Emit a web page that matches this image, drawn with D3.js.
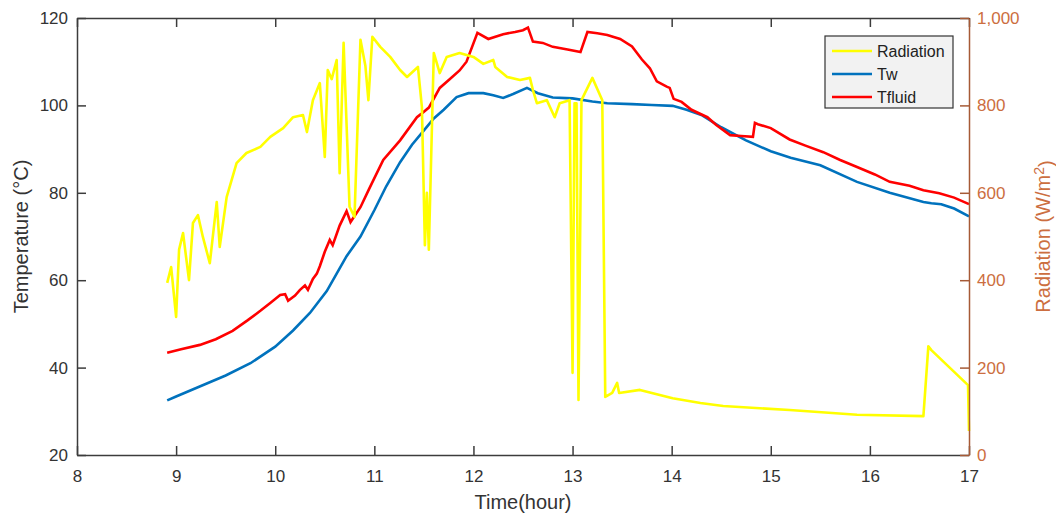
<!DOCTYPE html>
<html lang="en">
	<head>
		<meta charset="utf-8">
		<title>Temperature and radiation</title>
		<script src="https://d3js.org/d3.v7.min.js"></script>
		<style type="text/css">
		body { margin: 0; background: #fff; }
		.axis text {
			font-family: "Liberation Sans", Arial, sans-serif;
			font-size: 17px;
			fill: #333;
		}
		.axis path, .axis line {
			stroke: #3c3c3c;
			stroke-width: 1.5;
		}
		.axis.right path, .axis.right line { stroke: #a65a36; }
		.axis.right text { fill: #cc6e40; }
		.label {
			font-family: "Liberation Sans", Arial, sans-serif;
			font-size: 20px;
			fill: #333;
			text-anchor: middle;
		}
		.legend text {
			font-family: "Liberation Sans", Arial, sans-serif;
			font-size: 16px;
			fill: #222;
		}
		</style>
	</head>
	<body>
		<div id="chart"></div>
		<script type="text/javascript">

		// Tw (blue) - time in hours, temperature in degC
		var twTime = [8.91, 9.0, 9.25, 9.5, 9.75, 10.0, 10.18, 10.35, 10.52, 10.62, 10.72, 10.86, 11.0, 11.12, 11.26, 11.38, 11.49, 11.6, 11.7, 11.83, 11.95, 12.1, 12.2, 12.3, 12.4, 12.54, 12.65, 12.8, 13.0, 13.2, 13.35, 13.6, 13.8, 14.01, 14.15, 14.3, 14.5, 14.75, 15.0, 15.2, 15.5, 15.87, 16.2, 16.54, 16.62, 16.72, 16.85, 17.0];
		var twVals = [32.5, 33.4, 35.8, 38.2, 41.0, 44.8, 48.5, 52.5, 57.5, 61.5, 65.5, 70.0, 76.0, 81.5, 87.0, 91.0, 94.0, 97.0, 99.0, 101.9, 102.8, 102.8, 102.3, 101.7, 102.6, 104.0, 102.8, 101.8, 101.6, 100.9, 100.5, 100.3, 100.1, 99.9, 99.0, 97.8, 95.0, 92.0, 89.5, 88.0, 86.3, 82.5, 80.0, 77.9, 77.6, 77.4, 76.4, 74.6];

		// Tfluid (red)
		var tfTime = [8.91, 9.05, 9.24, 9.4, 9.57, 9.72, 9.85, 9.95, 10.05, 10.1, 10.13, 10.2, 10.25, 10.3, 10.33, 10.38, 10.42, 10.45, 10.5, 10.55, 10.58, 10.65, 10.72, 10.76, 10.86, 10.95, 11.09, 11.26, 11.43, 11.47, 11.55, 11.66, 11.76, 11.86, 11.93, 12.04, 12.15, 12.3, 12.42, 12.5, 12.55, 12.6, 12.7, 12.8, 12.95, 13.08, 13.15, 13.25, 13.35, 13.48, 13.6, 13.7, 13.78, 13.85, 13.95, 13.98, 14.02, 14.1, 14.2, 14.36, 14.45, 14.59, 14.7, 14.82, 14.84, 14.87, 15.0, 15.19, 15.35, 15.53, 15.7, 15.87, 16.05, 16.2, 16.4, 16.54, 16.7, 16.85, 17.0];
		var tfVals = [43.4, 44.2, 45.2, 46.5, 48.4, 50.8, 53.0, 54.8, 56.6, 56.8, 55.3, 56.5, 57.8, 58.8, 57.8, 60.3, 61.5, 63.2, 66.5, 69.2, 68.0, 72.5, 75.8, 73.3, 76.7, 81.0, 87.5, 92.0, 97.3, 98.0, 99.5, 104.0, 106.0, 108.0, 110.0, 116.6, 115.2, 116.3, 116.8, 117.2, 117.8, 114.6, 114.3, 113.4, 112.8, 112.2, 116.8, 116.5, 116.1, 115.2, 113.5, 110.5, 108.5, 105.5, 104.3, 104.0, 101.5, 100.8, 99.0, 97.3, 95.5, 93.2, 93.0, 92.8, 96.0, 95.7, 94.8, 92.2, 90.8, 89.3, 87.5, 85.9, 84.2, 82.5, 81.6, 80.6, 79.9, 78.9, 77.4];

		// Radiation (yellow), W/m2 on the right axis
		var radTime = [8.91, 8.95, 9.0, 9.03, 9.07, 9.13, 9.17, 9.22, 9.27, 9.34, 9.41, 9.44, 9.51, 9.61, 9.71, 9.85, 9.95, 10.08, 10.18, 10.28, 10.32, 10.38, 10.45, 10.5, 10.53, 10.57, 10.62, 10.65, 10.69, 10.75, 10.8, 10.86, 10.91, 10.94, 10.98, 11.06, 11.16, 11.26, 11.33, 11.44, 11.48, 11.51, 11.53, 11.55, 11.6, 11.66, 11.73, 11.86, 12.0, 12.1, 12.2, 12.22, 12.34, 12.47, 12.57, 12.6, 12.64, 12.74, 12.82, 12.87, 12.97, 13.0, 13.02, 13.04, 13.06, 13.09, 13.2, 13.3, 13.33, 13.4, 13.45, 13.47, 13.68, 14.01, 14.29, 14.52, 15.19, 15.87, 16.54, 16.59, 16.62, 16.99, 17.0];
		var radVals = [394, 430, 316, 470, 508, 400, 531, 549, 499, 439, 579, 476, 590, 668, 691, 705, 728, 748, 773, 778, 739, 812, 851, 682, 881, 860, 904, 645, 943, 568, 545, 950, 890, 812, 957, 934, 911, 881, 865, 888, 796, 480, 600, 470, 920, 874, 911, 920, 911, 895, 904, 888, 865, 858, 863, 835, 805, 812, 773, 805, 812, 188, 805, 805, 126, 812, 863, 812, 133, 142, 165, 142, 149, 130, 119, 112, 103, 92, 89, 249, 240, 160, 55];

		var xTicks = [8, 9, 10, 11, 12, 13, 14, 15, 16, 17];
		var tempTicks = [20, 40, 60, 80, 100, 120];
		var radTicks = [0, 200, 400, 600, 800, 1000];
		var legendNames = ["Radiation", "Tw", "Tfluid"];
		var legendColors = ["#ffff00", "#0072bd", "#ff0000"];

		var w = 1056;
		var h = 518;
		var margin = {left: 77, top: 18, right: 87, bottom: 63};
		var pw = w - margin.left - margin.right;
		var ph = h - margin.top - margin.bottom;

		var svg = d3.select("#chart")
			.append("svg")
			.attr("width", w)
			.attr("height", h);

		var g = svg.append("g")
			.attr("transform", "translate(" + margin.left + "," + margin.top + ")");

		var xScale = d3.scaleLinear().domain([8, 17]).range([0, pw]);
		var yTemp = d3.scaleLinear().domain([20, 120]).range([ph, 0]);
		var yRad = d3.scaleLinear().domain([0, 1000]).range([ph, 0]);

		var zip = function(a, b) {
			return a.map(function(v, i) { return [v, b[i]]; });
		};

		var tempLine = d3.line()
			.x(function(d) { return xScale(d[0]); })
			.y(function(d) { return yTemp(d[1]); });
		var radLine = d3.line()
			.x(function(d) { return xScale(d[0]); })
			.y(function(d) { return yRad(d[1]); });

		g.append("path")
			.datum(zip(twTime, twVals))
			.attr("d", tempLine)
			.attr("fill", "none")
			.attr("stroke", legendColors[1])
			.attr("stroke-width", 2.6);

		g.append("path")
			.datum(zip(tfTime, tfVals))
			.attr("d", tempLine)
			.attr("fill", "none")
			.attr("stroke", legendColors[2])
			.attr("stroke-width", 2.6);

		g.append("path")
			.datum(zip(radTime, radVals))
			.attr("d", radLine)
			.attr("fill", "none")
			.attr("stroke", legendColors[0])
			.attr("stroke-width", 2.6)
			.attr("stroke-linejoin", "round");

		// axes, ticks point inward like matlab
		g.append("g")
			.attr("class", "axis")
			.call(d3.axisTop(xScale).tickValues(xTicks).tickSizeInner(-9).tickSizeOuter(0).tickFormat(""));

		g.append("g")
			.attr("class", "axis")
			.attr("transform", "translate(0," + ph + ")")
			.call(d3.axisBottom(xScale).tickValues(xTicks).tickSizeInner(-9).tickSizeOuter(0).tickPadding(15).tickFormat(d3.format("d")));

		g.append("g")
			.attr("class", "axis")
			.call(d3.axisLeft(yTemp).tickValues(tempTicks).tickSizeInner(-9).tickSizeOuter(0).tickPadding(9));

		g.append("g")
			.attr("class", "axis right")
			.attr("transform", "translate(" + pw + ",0)")
			.call(d3.axisRight(yRad).tickValues(radTicks).tickSizeInner(-9).tickSizeOuter(0).tickPadding(8));

		// axis titles
		svg.append("text")
			.attr("class", "label")
			.attr("x", margin.left + xScale(12.5))
			.attr("y", 509)
			.text("Time(hour)");

		svg.append("text")
			.attr("class", "label")
			.attr("transform", "translate(21," + (margin.top + ph / 2) + ") rotate(-90)")
			.attr("dy", "0.35em")
			.text("Temperature (°C)");

		var radLabel = svg.append("text")
			.attr("class", "label")
			.attr("transform", "translate(1043," + (margin.top + ph / 2) + ") rotate(-90)")
			.attr("dy", "0.35em")
			.style("fill", "#cc6e40");
		radLabel.append("tspan").text("Radiation (W/m");
		radLabel.append("tspan").attr("dy", "-0.45em").style("font-size", "14px").text("2");
		radLabel.append("tspan").attr("dy", "0.45em").text(")");

		// legend
		var legend = svg.append("g").attr("class", "legend");
		legend.append("rect")
			.attr("x", 825)
			.attr("y", 36)
			.attr("width", 128)
			.attr("height", 72)
			.attr("fill", "#f2f2f2")
			.attr("stroke", "#333")
			.attr("stroke-width", 1.2);

		var rows = legend.selectAll(".row")
			.data(legendNames)
			.enter()
			.append("g")
			.attr("class", "row")
			.attr("transform", function(d, i) { return "translate(0," + (51 + i * 23) + ")"; });

		rows.append("line")
			.attr("x1", 832)
			.attr("x2", 872)
			.attr("stroke", function(d, i) { return legendColors[i]; })
			.attr("stroke-width", 2.6);

		rows.append("text")
			.attr("x", 877)
			.attr("dy", "0.35em")
			.text(function(d) { return d; });

		</script>
	</body>
</html>
